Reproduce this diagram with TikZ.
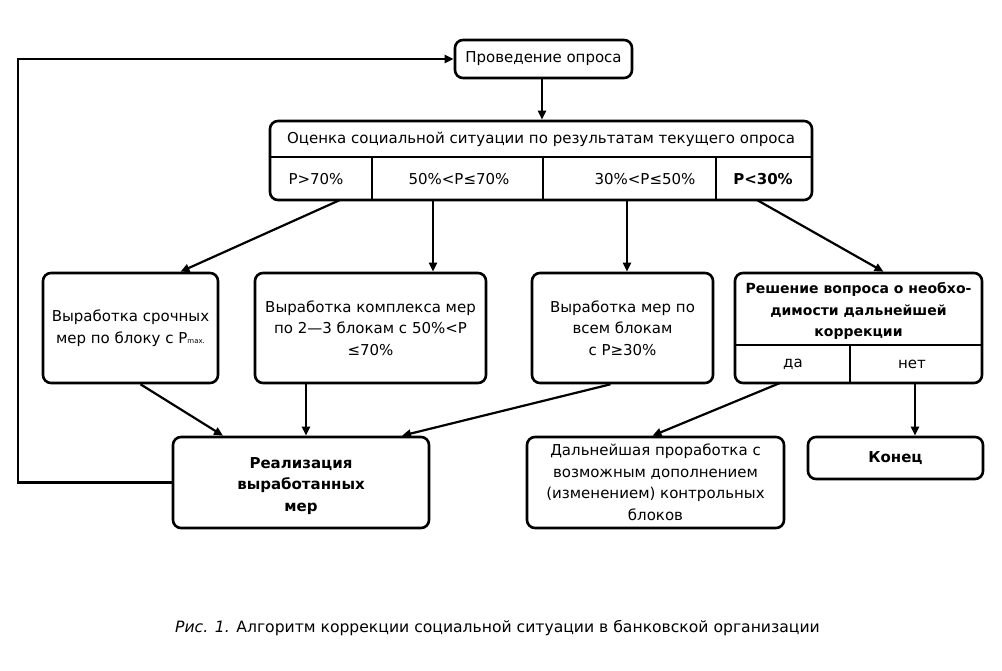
\documentclass[tikz,border=0pt]{standalone}
\usepackage{fontspec}
\setmainfont{DejaVu Sans}
\newfontfamily\symf{DejaVu Sans}
\usetikzlibrary{arrows.meta}
\newcommand{\LE}{{\symf ≤}}
\newcommand{\GE}{{\symf ≥}}
\begin{document}
\begin{tikzpicture}[x=1pt,y=-1pt,
  box/.style={draw, line width=2.6pt, rounded corners=8pt, inner sep=0pt},
  txt/.style={align=center, inner sep=0pt, font=\fontsize{15}{21.5}\selectfont},
  btxt/.style={txt, font=\fontsize{15}{21.5}\selectfont\bfseries},
  sep/.style={line width=2.4pt},
  arr/.style={line width=2.2pt, -{Triangle[length=9pt,width=8pt]}}]
\useasboundingbox (0,0) rectangle (1002,671);

% top
\node[box, minimum width=177pt, minimum height=38pt] (prov) at (543.5,59) {};
\node[txt] (provt) at (prov.center) {Проведение опроса};

% assessment block
\node[box, minimum width=542pt, minimum height=79pt] (oc) at (541,160.5) {};
\node[txt] (oct) at (541,139) {Оценка социальной ситуации по результатам текущего опроса};
\draw[sep] (oc.west |- 0,157) -- (oc.east |- 0,157);
\draw[sep] (372,157) -- (372,200);
\draw[sep] (543,157) -- (543,200);
\draw[sep] (716,157) -- (716,200);
\node[txt] (c1) at (316,179) {P>70\%};
\node[txt] (c2) at (459,179) {50\%<P\LE70\%};
\node[txt] (c3) at (645,179) {30\%<P\LE50\%};
\node[btxt] (c4) at (763,179) {P<30\%};
\coordinate (o1) at (340,200);
\coordinate (o2) at (433,200);
\coordinate (o3) at (627,200);
\coordinate (o4) at (757,200);

% middle row
\node[box, minimum width=175pt, minimum height=110pt] (b1) at (130.5,328) {};
\node[txt] (b1t) at (b1.center) {Выработка срочных\\мер по блоку с P{\fontsize{7}{7}\selectfont max.}};
\node[box, minimum width=231pt, minimum height=110pt] (b2) at (370.5,328) {};
\node[txt] (b2t) at (b2.center) {Выработка комплекса мер\\по 2—3 блокам с 50\%<P\\\LE70\%};
\node[box, minimum width=181pt, minimum height=110pt] (b3) at (622.5,328) {};
\node[txt] (b3t) at (b3.center) {Выработка мер по\\всем блокам\\с P\GE30\%};
\node[box, minimum width=247pt, minimum height=110pt] (b4) at (858.5,328) {};
\node[btxt, font=\fontsize{14}{21.5}\selectfont\bfseries] (b4t) at (858.5,311) {Решение вопроса о необхо-\\димости дальнейшей\\коррекции};
\draw[sep] (b4.west |- 0,345) -- (b4.east |- 0,345);
\draw[sep] (850,345) -- (850,383);
\node[txt] (yes) at (793,364) {да};
\node[txt] (no) at (912,364) {нет};
\coordinate (yesb) at (780,383);
\coordinate (nob) at (915,383);

% bottom row
\node[box, minimum width=256pt, minimum height=91pt] (real) at (301,482.5) {};
\node[btxt] (realt) at (301,486) {Реализация\\выработанных\\мер};
\node[box, minimum width=257pt, minimum height=91pt] (dal) at (655.5,482.5) {};
\node[txt] (dalt) at (dal.center) {Дальнейшая проработка с\\возможным дополнением\\(изменением) контрольных\\блоков};
\node[box, minimum width=175pt, minimum height=42pt] (kon) at (895.5,458) {};
\node[btxt] (kont) at (kon.center) {Конец};

% connectors
\draw[arr] (prov.south -| 542,0) -- (oc.north -| 542,0);
\draw[arr] (o1) -- ([xshift=50pt]b1.north);
\draw[arr] (o2) -- (b2.north -| o2);
\draw[arr] (o3) -- (b3.north -| o3);
\draw[arr] (o4) -- ([xshift=25pt]b4.north);
\draw[arr] ([xshift=10pt]b1.south) -- ([xshift=-78pt]real.north);
\draw[arr] (b2.south -| 306,0) -- (real.north -| 306,0);
\draw[arr] ([xshift=-12pt]b3.south) -- ([xshift=101pt]real.north);
\draw[arr] (yesb) -- ([xshift=-3pt]dal.north);
\draw[arr] (nob) -- (kon.north -| nob);
\draw[arr] (real.west) -- (18,482.5) -- (18,59) -- (prov.west);

% caption
\node[txt, anchor=west, font=\fontsize{15.6}{20}\selectfont] (cap) at (175,628) {\textit{Рис. 1.} Алгоритм коррекции социальной ситуации в банковской организации};
\end{tikzpicture}
\end{document}
